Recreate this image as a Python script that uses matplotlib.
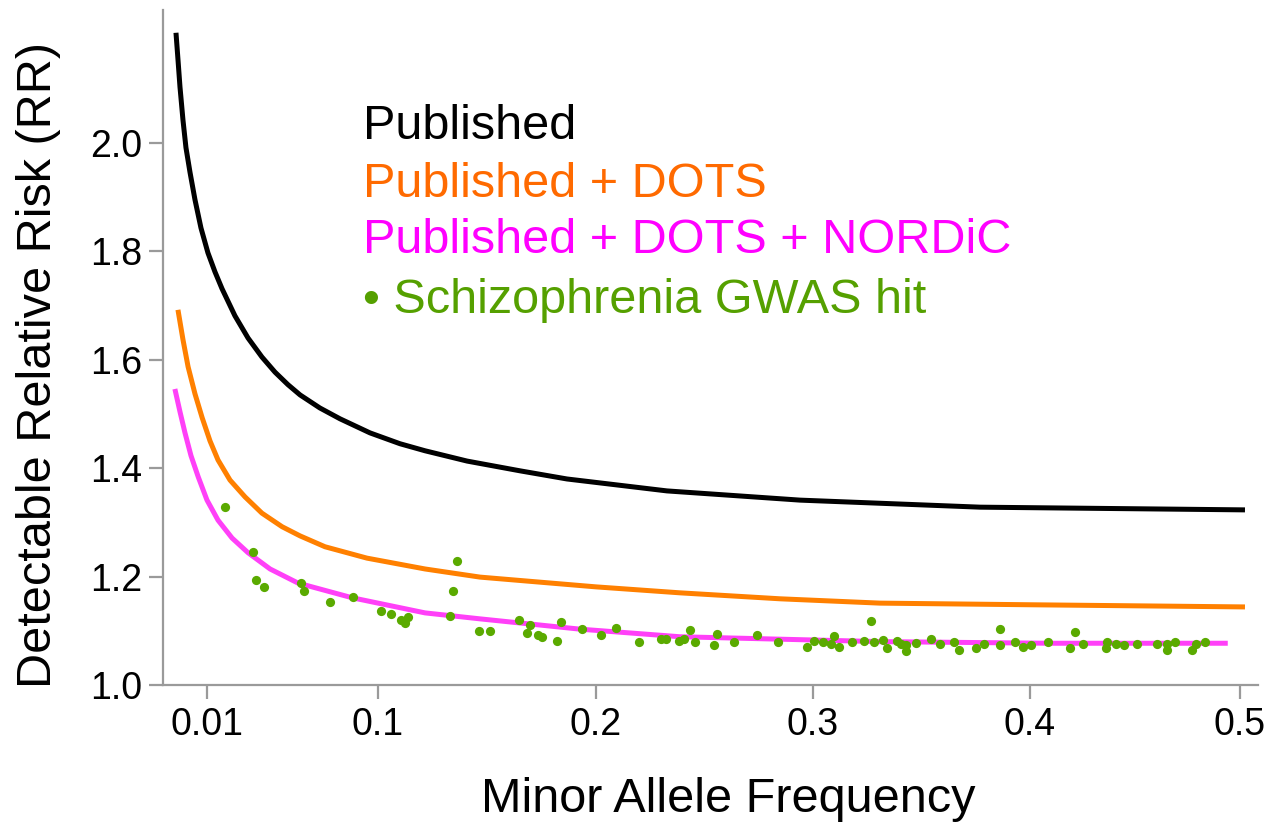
import numpy as np
import matplotlib
matplotlib.use("Agg")
from matplotlib import pyplot as plt

plt.rcParams["font.family"] = ["Liberation Sans", "DejaVu Sans"]

# detectable relative risk curves (MAF, RR)
pub_maf = [0.00295, 0.00341, 0.00386, 0.00454, 0.00522, 0.00613, 0.00727, 0.00863, 0.0105, 0.0142,
           0.0179, 0.0247, 0.0316, 0.0389, 0.0458, 0.0526, 0.0590, 0.0694, 0.0800, 0.0958,
           0.1101, 0.1216, 0.1409, 0.1652, 0.1867, 0.2327, 0.2940, 0.3770, 0.5024]
pub_rr = [2.203, 2.153, 2.103, 2.042, 1.991, 1.946, 1.895, 1.843, 1.797, 1.762,
          1.731, 1.681, 1.640, 1.605, 1.577, 1.554, 1.535, 1.511, 1.491, 1.465,
          1.445, 1.432, 1.413, 1.395, 1.380, 1.358, 1.341, 1.328, 1.323]

dots_maf = [0.0034, 0.00454, 0.0057, 0.00727, 0.0089, 0.0116, 0.0158, 0.0221, 0.0300, 0.0389,
            0.0495, 0.0590, 0.0721, 0.0942, 0.1216, 0.1468, 0.2000, 0.2387, 0.2848, 0.3309,
            0.4000, 0.5024]
dots_rr = [1.692, 1.637, 1.587, 1.537, 1.493, 1.450, 1.415, 1.378, 1.347, 1.317,
           1.292, 1.275, 1.255, 1.234, 1.214, 1.199, 1.181, 1.170, 1.159, 1.151,
           1.148, 1.144]

nordic_maf = [0.0027, 0.00386, 0.0050, 0.00636, 0.0080, 0.0100, 0.0158, 0.0232, 0.0316, 0.0432,
              0.0579, 0.0863, 0.1216, 0.1468, 0.1927, 0.2387, 0.3309, 0.4095, 0.4942]
nordic_rr = [1.546, 1.504, 1.465, 1.423, 1.384, 1.341, 1.304, 1.271, 1.244, 1.214,
             1.188, 1.161, 1.133, 1.122, 1.103, 1.089, 1.080, 1.077, 1.077]

# schizophrenia GWAS hits
gwas_maf = [0.0193, 0.0342, 0.0359, 0.0401, 0.0594, 0.0612, 0.0745, 0.0868, 0.1015, 0.1061,
            0.1107, 0.1123, 0.1138, 0.1329, 0.1343, 0.1364, 0.1462, 0.1514, 0.1649, 0.1698,
            0.1683, 0.1732, 0.1752, 0.1838, 0.1823, 0.1936, 0.2024, 0.2092, 0.2200, 0.2301,
            0.2323, 0.2381, 0.2406, 0.2432, 0.2458, 0.2542, 0.2556, 0.2636, 0.2742, 0.2839,
            0.2972, 0.3005, 0.3046, 0.3082, 0.3097, 0.3118, 0.3181, 0.3234, 0.3266, 0.3283,
            0.3324, 0.3342, 0.3386, 0.3404, 0.3429, 0.3427, 0.3473, 0.3544, 0.3587, 0.3650,
            0.3672, 0.3752, 0.3790, 0.3862, 0.3862, 0.3931, 0.3970, 0.4005, 0.4084, 0.4192,
            0.4213, 0.4251, 0.4365, 0.4362, 0.4409, 0.4446, 0.4509, 0.4606, 0.4652, 0.4653,
            0.4690, 0.4771, 0.4791, 0.4834]
gwas_rr = [1.329, 1.245, 1.194, 1.181, 1.188, 1.174, 1.154, 1.162, 1.137, 1.131,
           1.119, 1.114, 1.125, 1.127, 1.174, 1.229, 1.099, 1.100, 1.119, 1.111,
           1.095, 1.092, 1.089, 1.117, 1.082, 1.103, 1.092, 1.105, 1.079, 1.085,
           1.085, 1.082, 1.085, 1.101, 1.080, 1.073, 1.094, 1.080, 1.092, 1.080,
           1.071, 1.081, 1.079, 1.076, 1.090, 1.071, 1.079, 1.082, 1.118, 1.080,
           1.083, 1.069, 1.081, 1.075, 1.073, 1.063, 1.077, 1.085, 1.075, 1.080,
           1.065, 1.069, 1.075, 1.103, 1.073, 1.080, 1.070, 1.073, 1.080, 1.068,
           1.098, 1.076, 1.079, 1.068, 1.076, 1.073, 1.076, 1.076, 1.076, 1.065,
           1.080, 1.065, 1.076, 1.080]

xticks = [0.01, 0.1, 0.2, 0.3, 0.4, 0.5]
xticklabels = ["0.01", "0.1", "0.2", "0.3", "0.4", "0.5"]
yticks = [1.0, 1.2, 1.4, 1.6, 1.8, 2.0]

# the x axis is stretched below 0.1 (not plain linear)
scale_val = [0.0, 0.01, 0.1, 0.2, 0.3, 0.4, 0.5, 0.52]
scale_pos = [163, 207, 378, 596, 813, 1030, 1240, 1282]


def fwd(x):
    return np.interp(x, scale_val, scale_pos)


def inv(p):
    return np.interp(p, scale_pos, scale_val)


fig = plt.figure(figsize=(12.84, 8.27), dpi=100)
ax = fig.add_axes([163 / 1284, 1 - 685 / 827, 1095 / 1284, 675 / 827])
ax.set_xscale("function", functions=(fwd, inv))

ax.plot(pub_maf, pub_rr, color="black", lw=3.6, solid_capstyle="butt", solid_joinstyle="round")
ax.plot(dots_maf, dots_rr, color="#ff8000", lw=3.6, solid_capstyle="butt", solid_joinstyle="round")
ax.plot(nordic_maf, nordic_rr, color="#ff40f8", lw=3.6, solid_capstyle="butt", solid_joinstyle="round")
ax.scatter(gwas_maf, gwas_rr, s=44, color="#5aaa00", lw=0, zorder=3)

ax.set_xlim(0.0, 0.5086)
ax.set_ylim(1.0, 2.245)
ax.set_xticks(xticks)
ax.set_xticklabels(xticklabels)
ax.set_yticks(yticks)
ax.set_yticklabels(["%.1f" % v for v in yticks])

for s in ["top", "right"]:
    ax.spines[s].set_visible(False)
for s in ["left", "bottom"]:
    ax.spines[s].set_color("#9a9a9a")
    ax.spines[s].set_linewidth(1.6)
ax.tick_params(axis="both", color="#9a9a9a", width=1.6, length=10, labelsize=27, labelcolor="black")
ax.tick_params(axis="x", pad=6)
ax.tick_params(axis="y", pad=5)

ax.set_xlabel("Minor Allele Frequency", fontsize=35)
ax.xaxis.set_label_coords(0.516, -0.170)
ax.xaxis.label.set_va("center")
ax.set_ylabel("Detectable Relative Risk (RR)", fontsize=35)
ax.yaxis.set_label_coords(-0.114, 0.474)
ax.yaxis.label.set_va("center")

legend_items = ["Published", "Published + DOTS", "Published + DOTS + NORDiC", "\u2022 Schizophrenia GWAS hit"]
legend_colors = ["black", "#ff6a00", "#ff00ff", "#55a000"]
legend_y = [0.8267, 0.742, 0.658, 0.570]
for txt, c, yy in zip(legend_items, legend_colors, legend_y):
    ax.text(0.1826, yy, txt, color=c, fontsize=35, va="center", ha="left", transform=ax.transAxes)

fig.savefig("out.png", dpi=100)
